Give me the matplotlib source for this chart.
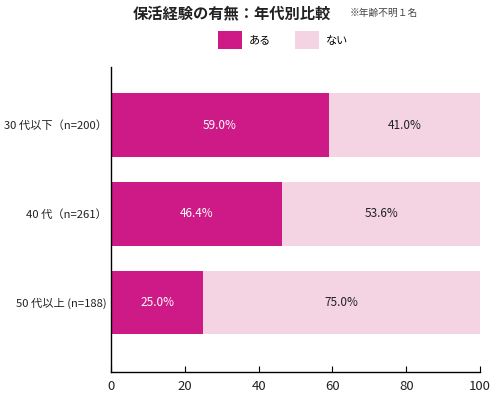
import matplotlib
matplotlib.use("Agg")
import matplotlib.pyplot as plt
from matplotlib.patches import Patch

plt.rcParams['font.family'] = ['Noto Sans CJK JP', 'DejaVu Sans']

categories = ["30 代以下（n=200）", "40 代（n=261）", "50 代以上 (n=188)"]
yes_vals = [59.0, 46.4, 25.0]
no_vals = [41.0, 53.6, 75.0]
series_names = ["ある", "ない"]
xticks = [0, 20, 40, 60, 80, 100]

c_yes = "#CE1A86"
c_no = "#F4D3E2"

fig = plt.figure(figsize=(4.92, 3.96), dpi=100)
ax = fig.add_axes([111/492, 1-371.5/396, 369/492, (371.5-67)/396])

ypos = list(range(len(categories)))
ax.barh(ypos, yes_vals, height=0.72, color=c_yes)
ax.barh(ypos, no_vals, left=yes_vals, height=0.72, color=c_no)

for y, a, b in zip(ypos, yes_vals, no_vals):
    ax.text(a/2, y, f"{a:.1f}%", color="white", ha="center", va="center", fontsize=8.5)
    ax.text(a + b/2, y, f"{b:.1f}%", color="#222222", ha="center", va="center", fontsize=8.5)

ax.set_xlim(0, 100)
ax.set_ylim(2.778, -0.654)
ax.set_yticks(ypos)
ax.set_yticklabels(categories, fontsize=8.1, color="#222222")
ax.tick_params(axis='y', length=0, pad=3)
ax.set_xticks(xticks)
ax.set_xticklabels([str(t) for t in xticks], fontsize=9.5, color="#222222")
ax.tick_params(axis='x', direction='in', length=4, width=0.8, pad=6)
for s in ["top", "right"]:
    ax.spines[s].set_visible(False)
ax.spines["left"].set_linewidth(1.0)
ax.spines["bottom"].set_linewidth(1.0)

fig.text(232/492, 1-13/396, "保活経験の有無：年代別比較", ha="center", va="center",
         fontsize=11, fontweight="bold", color="#222222")
fig.text(350/492, 1-13/396, "※年齢不明１名", ha="left", va="center", fontsize=7, color="#444444")

handles = [Patch(facecolor=c_yes), Patch(facecolor=c_no)]
fig.legend(handles, series_names, loc="center", bbox_to_anchor=(283/492, 1-40/396),
           ncol=2, frameon=False, fontsize=8, handlelength=2.2, handleheight=2.0,
           columnspacing=2.1, handletextpad=0.6)

fig.savefig("out.png", dpi=100)
